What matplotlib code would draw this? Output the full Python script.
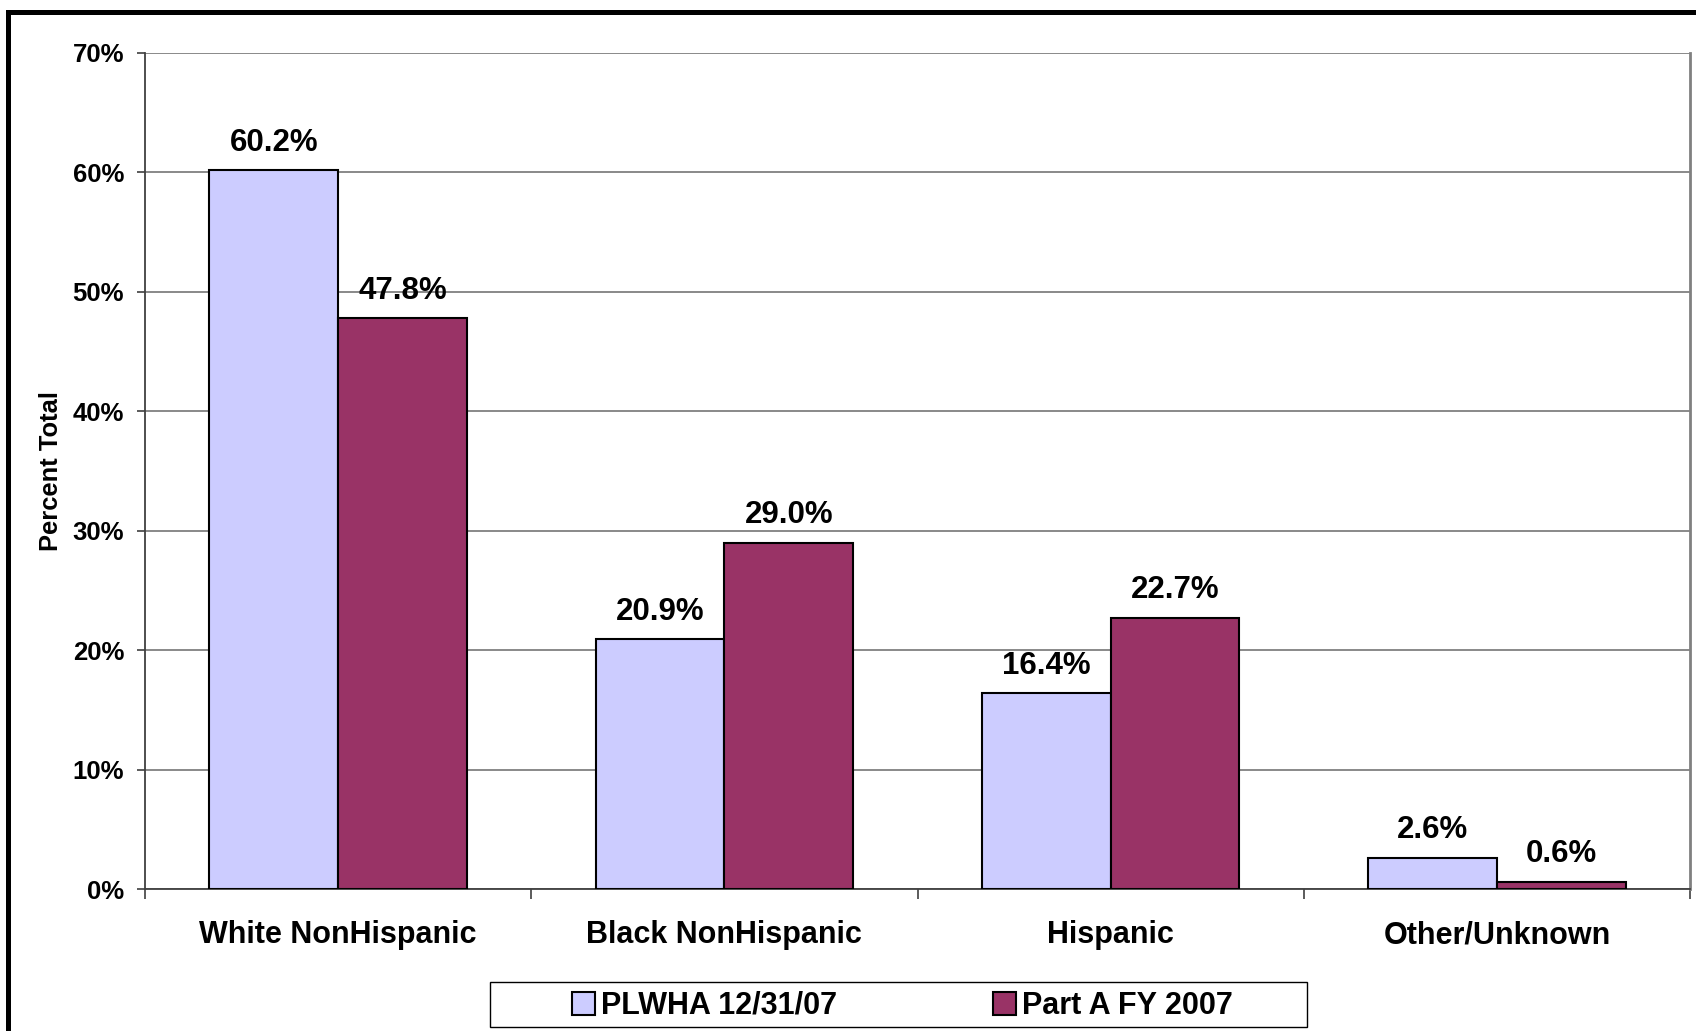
import numpy as np
import matplotlib
matplotlib.use('Agg')
import matplotlib.pyplot as plt
from matplotlib.patches import Rectangle
from matplotlib.ticker import FixedLocator, FuncFormatter

# ==========================================
# Data
# ==========================================
categories = ['White NonHispanic', 'Black NonHispanic', 'Hispanic', 'Other/Unknown']
plwha = [60.2, 20.9, 16.4, 2.6]
part_a = [47.8, 29.0, 22.7, 0.6]
series_names = ['PLWHA 12/31/07', 'Part A FY 2007']
y_ticks = [0, 10, 20, 30, 40, 50, 60, 70]

plt.rcParams['font.family'] = ['Liberation Sans', 'DejaVu Sans']
plt.rcParams['font.weight'] = 'bold'

fig = plt.figure(figsize=(16.96, 10.31), dpi=100)
ax = fig.add_axes([0.0855, 0.1377, 0.911, 0.8109])

x = np.arange(len(categories))
w = 1 / 3
b1 = ax.bar(x - w / 2, plwha, w, color='#CCCCFF', edgecolor='black', linewidth=1.5,
            label=series_names[0], zorder=3)
b2 = ax.bar(x + w / 2, part_a, w, color='#993366', edgecolor='black', linewidth=1.5,
            label=series_names[1], zorder=3)

for bars in (b1, b2):
    for r in bars:
        ax.annotate(f'{r.get_height():.1f}%', (r.get_x() + r.get_width() / 2, r.get_height()),
                    xytext=(0, 9), textcoords='offset points', ha='center', va='bottom',
                    fontsize=22.5, fontweight='bold')

# axes / grid
ax.set_xlim(-0.5, len(categories) - 0.5)
ax.set_ylim(0, 70)
ax.set_yticks(y_ticks)
ax.yaxis.set_major_formatter(FuncFormatter(lambda v, p: f'{v:.0f}%'))
ax.tick_params(axis='y', length=6, width=1.2, color='#404040', pad=9, labelsize=18.5)
ax.grid(axis='y', color='#808080', linewidth=1.3, zorder=0)

ax.xaxis.set_major_locator(FixedLocator(np.arange(-0.5, len(categories), 1.0)))
ax.xaxis.set_minor_locator(FixedLocator(x))
ax.set_xticklabels([''] * (len(categories) + 1))
ax.set_xticklabels(categories, minor=True)
ax.tick_params(axis='x', which='major', length=7, width=1.2, color='#404040')
ax.tick_params(axis='x', which='minor', length=0, pad=22.5, labelsize=22)

for s in ('left', 'bottom'):
    ax.spines[s].set_color('#404040')
    ax.spines[s].set_linewidth(1.3)
ax.spines['top'].set_visible(False)
ax.spines['right'].set_color('#808080')
ax.spines['right'].set_linewidth(2)

ax.set_ylabel('Percent Total', fontsize=18.4, fontweight='bold')
ax.yaxis.set_label_coords(-0.0534, 0.5)

# ==========================================
# Legend + outer frame
# ==========================================
fig.patches.append(Rectangle((0.2889, 0.0039), 0.4817, 0.0436, transform=fig.transFigure,
                             facecolor='white', edgecolor='black', linewidth=1))
fig.legend(handles=[b1, b2], loc='center left', bbox_to_anchor=(572 / 1696, 1 - 1006 / 1031),
           ncol=2, frameon=False, fontsize=22, borderpad=0, borderaxespad=0,
           handlelength=0.75, handleheight=0.75, handletextpad=0.2, columnspacing=5.1)

fig.patches.append(Rectangle((0.005, -0.1), 1.2, 0.9879 + 0.1, transform=fig.transFigure,
                             facecolor='none', edgecolor='black', linewidth=3.6))

fig.savefig('out.png', dpi=100)
